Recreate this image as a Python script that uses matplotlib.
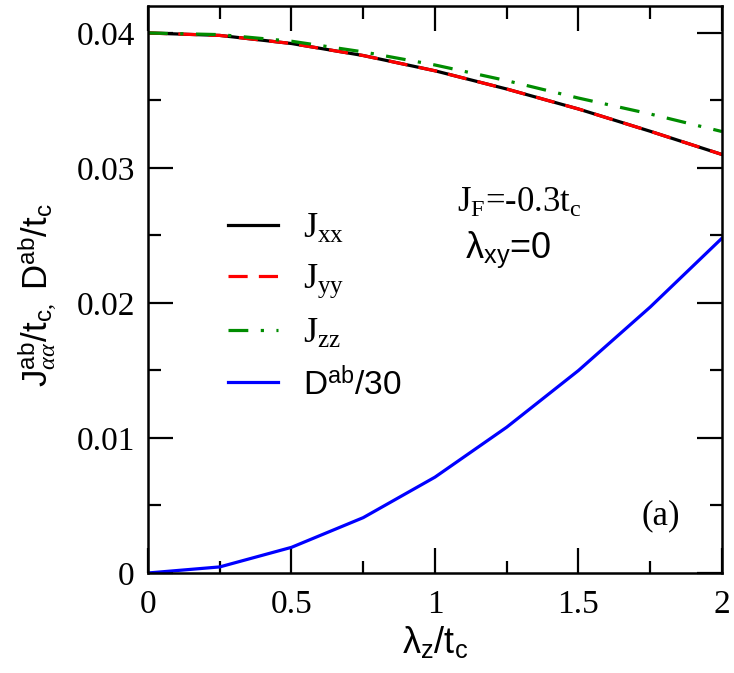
import matplotlib as mpl

mpl.use("Agg")

import matplotlib.pyplot as plt
from matplotlib.ticker import FormatStrFormatter, MultipleLocator

mpl.rcParams.update(
    {
        "mathtext.fontset": "custom",
        "mathtext.rm": "Liberation Serif",
        "mathtext.it": "Liberation Serif:italic",
        "mathtext.sf": "Liberation Sans",
        "mathtext.bf": "Liberation Serif:bold",
        "axes.linewidth": 1.8,
    }
)

SERIF = "Liberation Serif"
SANS = "Liberation Sans"

# lambda_z / t_c
lam_z = [0.0, 0.25, 0.5, 0.75, 1.0, 1.25, 1.5, 1.75, 2.0]
j_xx = [0.0400, 0.03982, 0.03922, 0.03833, 0.03720, 0.03585, 0.03437, 0.03272, 0.03100]
j_yy = [0.0400, 0.03982, 0.03922, 0.03833, 0.03720, 0.03585, 0.03437, 0.03272, 0.03100]
j_zz = [0.0400, 0.03988, 0.03939, 0.03860, 0.03763, 0.03647, 0.03518, 0.03400, 0.03270]
d_ab = [0.0, 0.00045, 0.0019, 0.0041, 0.0071, 0.0108, 0.0150, 0.0197, 0.0248]

x_ticks = [0, 0.5, 1, 1.5, 2]
y_ticks = [0, 0.01, 0.02, 0.03, 0.04]

fig = plt.figure(figsize=(7.34, 6.73), dpi=100)
ax = fig.add_axes([0.2016, 0.1486, 0.782, 0.8425])

lw = 2.3
ax.plot(lam_z, j_xx, color="black", lw=lw, label="J$_{\\mathrm{xx}}$")
ax.plot(lam_z, j_yy, color="#ff0000", lw=lw, dashes=(6, 3.5), label="J$_{\\mathrm{yy}}$")
ax.plot(lam_z, j_zz, color="#008c00", lw=lw, dashes=(6.2, 3.9, 1, 3.9), label="J$_{\\mathrm{zz}}$")
ax.plot(lam_z, d_ab, color="#0000ff", lw=lw, label="D$^{\\mathsf{ab}}$/30")

ax.set_xlim(0, 2)
ax.set_ylim(0, 0.042)
ax.set_xticks(x_ticks)
ax.set_yticks(y_ticks)
ax.xaxis.set_minor_locator(MultipleLocator(0.25))
ax.yaxis.set_minor_locator(MultipleLocator(0.005))
ax.xaxis.set_major_formatter(FormatStrFormatter("%g"))
ax.yaxis.set_major_formatter(FormatStrFormatter("%g"))
ax.tick_params(which="both", direction="in", top=True, right=True, width=1.6)
ax.tick_params(which="major", length=18)
ax.tick_params(which="minor", length=9)
ax.tick_params(axis="x", which="major", pad=12)
ax.tick_params(axis="y", which="major", pad=9.5)
for lab in ax.get_xticklabels() + ax.get_yticklabels():
    lab.set_family(SERIF)
    lab.set_fontsize(24)

ax.set_xlabel("λ$_{\\mathsf{z}}$/t$_{\\mathsf{c}}$", family=SANS, fontsize=26, labelpad=4)
ax.set_ylabel(
    "J$^{\\mathsf{ab}}_{\\alpha\\alpha}$/t$_{\\mathsf{c},}$ D$^{\\mathsf{ab}}$/t$_{\\mathsf{c}}$",
    family=SANS,
    fontsize=25,
)
ax.yaxis.set_label_coords(-0.157, 0.49)

leg = ax.legend(
    loc="upper left",
    bbox_to_anchor=(0.082, 0.693),
    frameon=False,
    prop={"family": SERIF, "size": 26},
    handlelength=1.41,
    handletextpad=0.69,
    labelspacing=0.47,
)
leg.get_texts()[3].set_family(SANS)
leg.get_texts()[3].set_fontsize(24)

ax.text(1.077, 0.02674, "J$_{\\mathrm{F}}$=-0.3t$_{\\mathrm{c}}$", family=SERIF, fontsize=25,
        ha="left", va="baseline")
ax.text(1.105, 0.02333, "λ$_{\\mathsf{xy}}$=0", family=SANS, fontsize=26,
        ha="left", va="baseline")
ax.text(1.785, 0.0042, "(a)", family=SERIF, fontsize=25, ha="center", va="center")

fig.savefig("out.png", dpi=100)
